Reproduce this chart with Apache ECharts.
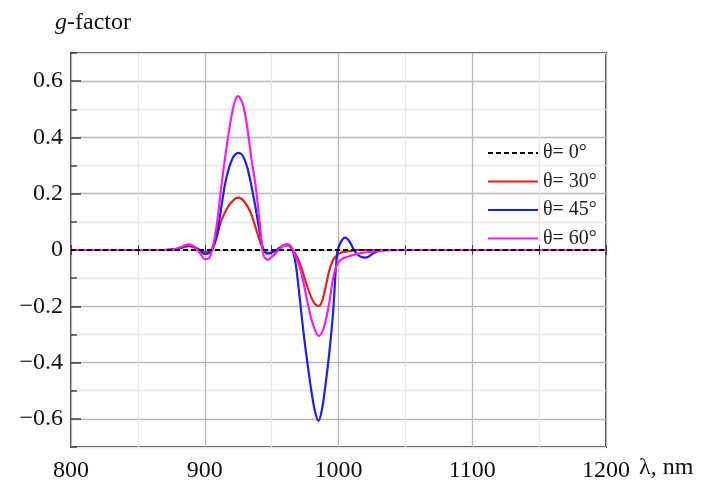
<!DOCTYPE html>
<html><head><meta charset="utf-8">
<script src="https://cdn.jsdelivr.net/npm/echarts@6/dist/echarts.min.js"></script>
<style>html,body{margin:0;padding:0;background:#fff}#c{width:710px;height:483px}</style>
</head><body><div id="c"></div>
<script>
const wavelengths = [800, 840, 860, 870, 876,
  880, 884, 888, 892, 896,
  900, 903, 906, 909, 912,
  915, 918, 921, 923, 925,
  927, 929, 932, 935, 938,
  941, 944, 947, 950, 953,
  956, 959, 962, 965, 968,
  971, 974, 977, 980, 982.5,
  985, 987.5, 990, 993, 996,
  999, 1002, 1005, 1008, 1011,
  1014, 1017, 1020, 1023, 1026,
  1030, 1035, 1045, 1100, 1200];
const g0 = [0, 0, 0, 0, 0,
  0, 0, 0, 0, 0,
  0, 0, 0, 0, 0,
  0, 0, 0, 0, 0,
  0, 0, 0, 0, 0,
  0, 0, 0, 0, 0,
  0, 0, 0, 0, 0,
  0, 0, 0, 0, 0,
  0, 0, 0, 0, 0,
  0, 0, 0, 0, 0,
  0, 0, 0, 0, 0,
  0, 0, 0, 0, 0];
const g30 = [0, 0, 0, 0, 0.001,
  0.004, 0.009, 0.014, 0.009, 0.0,
  -0.008, -0.006, 0.005, 0.045, 0.1,
  0.132, 0.158, 0.175, 0.183, 0.186,
  0.183, 0.175, 0.155, 0.125, 0.08,
  0.035, 0.0, -0.01, -0.008, -0.002,
  0.006, 0.014, 0.016, 0.005, -0.015,
  -0.045, -0.09, -0.135, -0.172, -0.192,
  -0.199, -0.185, -0.14, -0.075, -0.035,
  -0.018, -0.01, -0.006, -0.004, -0.002,
  0, 0, 0, 0, 0,
  0, 0, 0, 0, 0];
const g45 = [0, 0, 0, 0, 0.002,
  0.005, 0.012, 0.018, 0.012, 0,
  -0.014, -0.012, 0.01, 0.055, 0.14,
  0.23, 0.29, 0.328, 0.34, 0.345,
  0.342, 0.33, 0.29, 0.225, 0.15,
  0.065, 0.0, -0.013, -0.01, -0.003,
  0.008, 0.017, 0.02, 0.008, -0.05,
  -0.17, -0.3, -0.41, -0.51, -0.575,
  -0.607, -0.57, -0.49, -0.37, -0.22,
  -0.01, 0.03, 0.044, 0.032, 0.005,
  -0.015, -0.025, -0.027, -0.022, -0.012,
  -0.003, 0, 0, 0, 0];
const g60 = [0, 0, 0, 0, 0.002,
  0.006, 0.014, 0.02, 0.012, -0.008,
  -0.032, -0.03, 0.01, 0.09, 0.21,
  0.32, 0.42, 0.5, 0.535, 0.547,
  0.535, 0.51, 0.43, 0.32, 0.23,
  0.1, -0.02, -0.035, -0.025, -0.012,
  0.004, 0.016, 0.02, 0.008, -0.025,
  -0.06, -0.12, -0.19, -0.25, -0.285,
  -0.305, -0.295, -0.26, -0.19, -0.1,
  -0.05, -0.034, -0.027, -0.022, -0.018,
  -0.014, -0.011, -0.009, -0.007, -0.005,
  -0.003, -0.001, 0, 0, 0];
const seriesNames = ['\u03b8= 0\u00b0', '\u03b8= 30\u00b0', '\u03b8= 45\u00b0', '\u03b8= 60\u00b0'];
const xMajorLabels = [800, 900, 1000, 1100, 1200];
const yMajorLabels = [-0.6, -0.4, -0.2, 0, 0.2, 0.4, 0.6];

const FONT = "'Liberation Serif','Times New Roman',serif";
const pairs = arr => wavelengths.map((x, i) => [x, arr[i]]);
const chart = echarts.init(document.getElementById('c'), null, {renderer: 'canvas'});
const gridMajor = '#b8b8b8', gridMinor = '#e6e6e6', frame = '#444444';
function fmtY(v) {
  const r = Math.round(v * 10) / 10;
  if (!yMajorLabels.some(m => Math.abs(m - r) < 1e-6)) return '';
  if (Math.abs(r) < 1e-6) return '0';
  return (r < 0 ? '\u2212' : '') + Math.abs(r).toFixed(1);
}
function fmtX(v) {
  return xMajorLabels.indexOf(Math.round(v)) >= 0 ? String(Math.round(v)) : '';
}
const mkLine = (name, arr, color, type, z) => ({
  name, type: 'line', data: pairs(arr), showSymbol: false, symbol: 'none',
  smooth: 0.3, z, lineStyle: {color, width: 2.2, type}, itemStyle: {color}
});
chart.setOption({
  animation: false,
  backgroundColor: '#fff',
  grid: {left: 71, right: 104, top: 53, bottom: 36, show: true, borderColor: frame, borderWidth: 2, backgroundColor: 'transparent'},
  legend: {
    data: seriesNames, orient: 'vertical', left: 487, top: 143, padding: 0,
    itemWidth: 50, itemHeight: 14, itemGap: 8.5,
    itemStyle: {opacity: 0},
    textStyle: {fontFamily: FONT, fontSize: 20, color: '#222', lineHeight: 20}
  },
  xAxis: [{
    type: 'value', min: 800, max: 1200, interval: 50,
    axisLine: {show: false},
    axisTick: {show: true, inside: true, length: 5, lineStyle: {color: frame}},
    axisLabel: {formatter: fmtX, fontFamily: FONT, fontSize: 24, color: '#111', margin: 12},
    splitLine: {show: true, lineStyle: {color: [gridMajor, gridMinor], width: 1.3}}
  }, {
    type: 'value', position: 'top', min: 800, max: 1200, interval: 50,
    axisLine: {show: false}, axisLabel: {show: false}, splitLine: {show: false},
    axisTick: {show: true, inside: true, length: 5, lineStyle: {color: frame}}
  }],
  yAxis: [{
    type: 'value', min: -0.7, max: 0.7, interval: 0.1,
    axisLine: {show: false},
    axisTick: {show: true, inside: true, length: 6, lineStyle: {color: frame, width: 1.5}},
    axisLabel: {formatter: fmtY, fontFamily: FONT, fontSize: 24, color: '#111', margin: 8},
    splitLine: {show: true, lineStyle: {color: [gridMinor, gridMajor], width: 1.3}}
  }, {
    type: 'value', position: 'left', min: -0.7, max: 0.7, interval: 0.1,
    axisLine: {show: false}, axisLabel: {show: false}, splitLine: {show: false},
    axisTick: {show: true, inside: true, length: 10, customValues: yMajorLabels, lineStyle: {color: frame, width: 1.5}}
  }],
  graphic: [
    {type: 'text', left: 55, top: 11, style: {text: '{i|g}-factor', fontFamily: FONT, fontSize: 24, fill: '#111',
      rich: {i: {fontFamily: FONT, fontSize: 24, fontStyle: 'italic', fill: '#111'}}}},
    {type: 'text', left: 639, top: 456, style: {text: '\u03bb, nm', fontFamily: FONT, fontSize: 24, fill: '#111'}}
  ],
  series: [
    mkLine(seriesNames[1], g30, '#e02222', 'solid', 2),
    mkLine(seriesNames[2], g45, '#2020e0', 'solid', 3),
    mkLine(seriesNames[3], g60, '#f020f0', 'solid', 4),
    mkLine(seriesNames[0], g0, '#000000', [5, 3], 5)
  ]
});
</script></body></html>
